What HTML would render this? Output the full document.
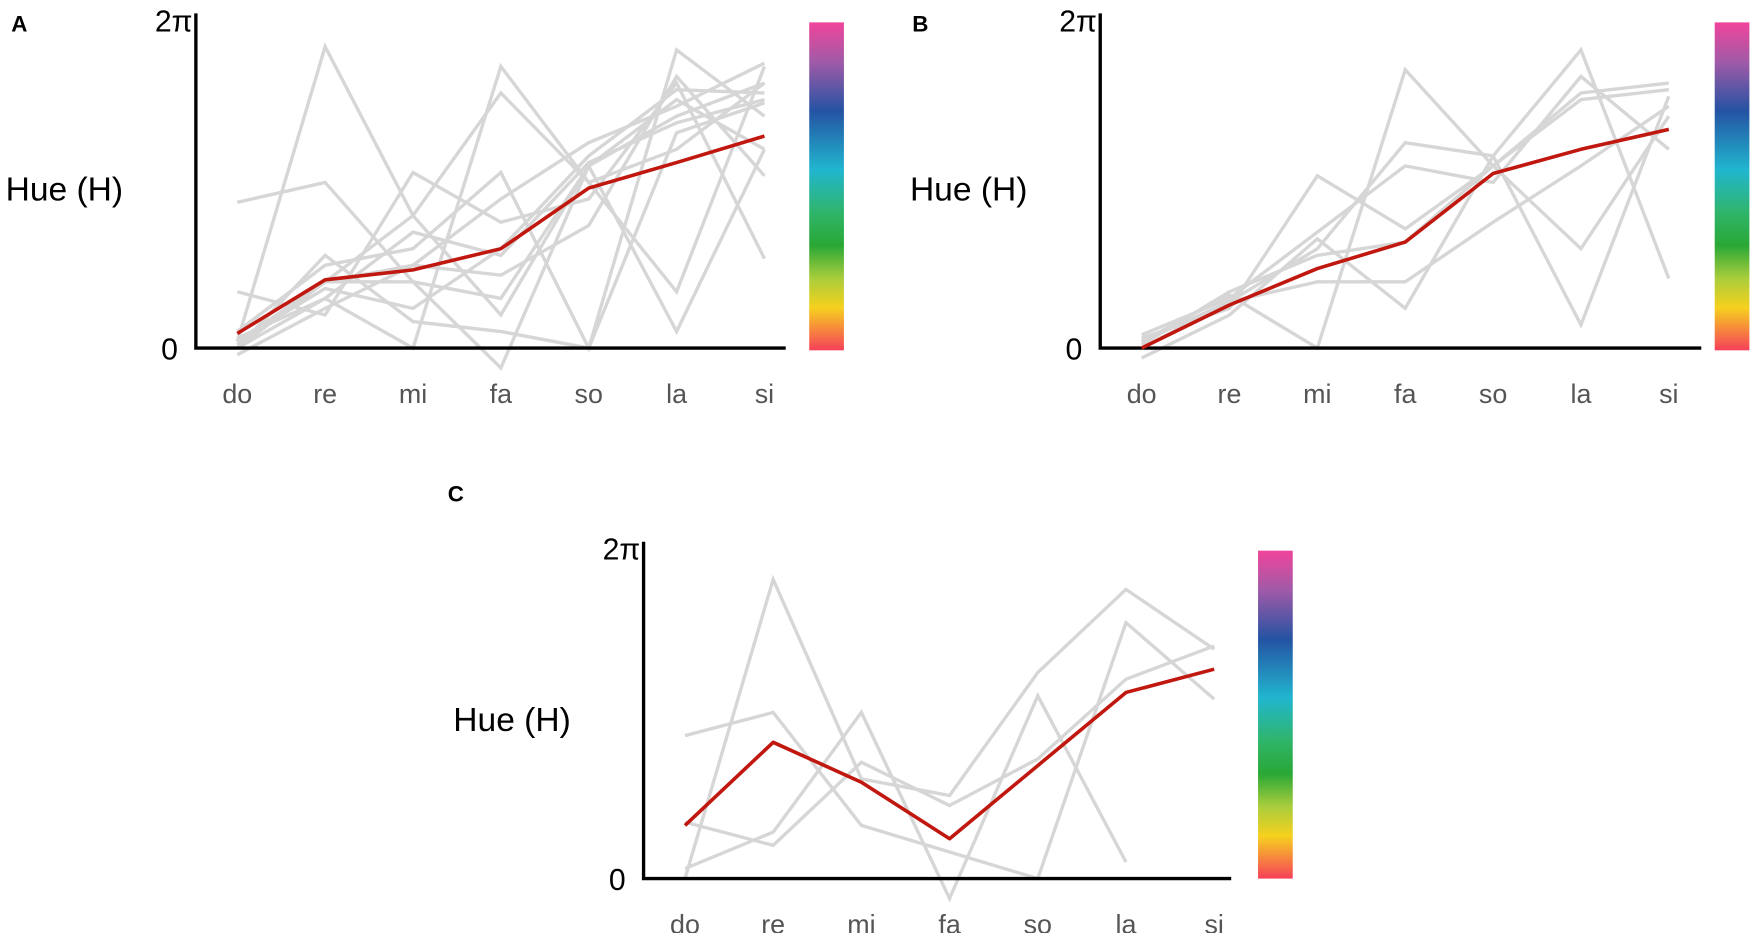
<!DOCTYPE html>
<html><head><meta charset="utf-8"><style>
html,body{margin:0;padding:0;background:#fff;}
svg{display:block;font-family:"Liberation Sans",sans-serif;}
</style></head><body>
<svg id="fig" width="1755" height="933" viewBox="0 0 1568 833.6" preserveAspectRatio="none">
<defs>
<linearGradient id="hueGrad" x1="0" y1="0" x2="0" y2="1">
<stop offset="0" stop-color="#f0449a"/>
<stop offset="0.12" stop-color="#a15aa8"/>
<stop offset="0.27" stop-color="#2453a3"/>
<stop offset="0.45" stop-color="#21b6cf"/>
<stop offset="0.58" stop-color="#2fb56a"/>
<stop offset="0.68" stop-color="#29a836"/>
<stop offset="0.78" stop-color="#a9cd3c"/>
<stop offset="0.87" stop-color="#f6d11e"/>
<stop offset="1" stop-color="#f6405a"/>
</linearGradient>
</defs>
</svg>
<script>
const categories = ["do","re","mi","fa","so","la","si"];
const yTickLabels = ["0","2π"];
// values as fraction of 2π
const meanA = [0.044,0.206,0.236,0.30,0.483,0.56,0.64];
const grayA = [
 [0.02,0.91,0.40,0.10,0.55,0.75,0.60],
 [0.44,0.50,0.20,0.15,0.55,0.05,0.60],
 [0.17,0.10,0.53,0.38,0.45,0.80,0.27],
 [0.00,0.15,0.00,0.85,0.50,0.60,0.80],
 [0.02,0.20,0.40,0.77,0.50,0.17,0.85],
 [0.05,0.25,0.30,0.53,0.00,0.90,0.70],
 [0.00,0.20,0.25,0.45,0.62,0.73,0.86],
 [0.03,0.15,0.35,0.28,0.56,0.68,0.75],
 [0.01,0.20,0.20,-0.06,0.55,0.70,0.80],
 [-0.02,0.12,0.25,0.22,0.37,0.82,0.52],
 [0.02,0.18,0.12,0.30,0.58,0.78,0.77],
 [0.00,0.28,0.08,0.05,0.00,0.65,0.74]
];
const meanB = [0.00,0.13,0.24,0.32,0.527,0.60,0.66];
const grayB = [
 [0.02,0.16,0.00,0.84,0.55,0.30,0.70],
 [0.03,0.12,0.52,0.36,0.55,0.77,0.80],
 [0.00,0.14,0.30,0.62,0.58,0.07,0.76],
 [-0.03,0.10,0.33,0.12,0.58,0.90,0.21],
 [0.04,0.15,0.35,0.55,0.50,0.82,0.60],
 [0.01,0.17,0.28,0.32,0.55,0.75,0.78],
 [0.02,0.14,0.20,0.20,0.38,0.55,0.73]
];
const meanC = [0.16,0.41,0.29,0.12,0.34,0.56,0.63];
const grayC = [
 [0.00,0.90,0.30,0.25,0.62,0.87,0.69],
 [0.43,0.50,0.16,0.08,0.00,0.77,0.54],
 [0.03,0.14,0.50,-0.06,0.55,0.05,null],
 [0.17,0.10,0.35,0.22,0.36,0.60,0.70]
];

const NS="http://www.w3.org/2000/svg";
const svg=document.getElementById('fig');
function mk(tag,attrs,parent,text){const e=document.createElementNS(NS,tag);for(const k in attrs)e.setAttribute(k,attrs[k]);if(text!==undefined)e.textContent=text;(parent||svg).appendChild(e);return e;}

function panel(cfg){
  const g=mk('g',{});
  
  
  const x=i=>cfg.x0+i*cfg.step;
  const y=v=>cfg.y0-v*(cfg.y0-cfg.yTop);
  const lbl=mk('text',{x:cfg.letterX,y:cfg.letterY,'font-size':20,'font-weight':'bold',fill:'#000'},g,cfg.id);
  
  
  cfg.gray.forEach((s,si)=>{
    let pts=[];s.forEach((v,i)=>{if(v!==null)pts.push(x(i)+','+y(v));});
    const p=mk('polyline',{points:pts.join(' '),fill:'none',stroke:'#d6d6d6','stroke-width':3,'stroke-linejoin':'miter'},g);
    
    
  });
  const ax=mk('path',{d:`M${cfg.axX},${cfg.axTop} V${cfg.y0} H${cfg.axRight}`,fill:'none',stroke:'#000','stroke-width':3},g);
  
  
  const m=mk('polyline',{points:cfg.mean.map((v,i)=>x(i)+','+y(v)).join(' '),fill:'none',stroke:'#c0170f','stroke-width':3.2,'stroke-linejoin':'round'},g);
  
  
  categories.forEach((c,i)=>{
    const t=mk('text',{x:x(i),y:cfg.y0+49,'font-size':24,fill:'#555','text-anchor':'middle'},g,c);
    
    
  });
  const t0=mk('text',{x:cfg.axX-16,y:cfg.y0+10,'font-size':27,fill:'#000','text-anchor':'end'},g,yTickLabels[0]);
  
  
  const t1=mk('text',{x:cfg.axX-3,y:cfg.axTop+16,'font-size':27,fill:'#000','text-anchor':'end'},g,yTickLabels[1]);
  
  
  const yt=mk('text',{x:cfg.titleX,y:cfg.titleY,'font-size':30,fill:'#000'},g,'Hue (H)');
  
  
  const cb=mk('rect',{x:cfg.cbX,y:cfg.cbY,width:31,height:cfg.cbH,fill:'url(#hueGrad)'},g);
  
  
}
panel({id:'A',x0:212,step:78.5,y0:311,yTop:15,axX:175,axTop:12,axRight:702,letterX:10,letterY:28,titleX:5,titleY:179,cbX:723,cbY:20,cbH:293,mean:meanA,gray:grayA});
panel({id:'B',x0:1020,step:78.5,y0:311,yTop:15,axX:983,axTop:12,axRight:1520,letterX:815,letterY:28,titleX:813,titleY:179,cbX:1532,cbY:20,cbH:293,mean:meanB,gray:grayB});
panel({id:'C',x0:612,step:78.8,y0:785,yTop:488,axX:575,axTop:484,axRight:1100,letterX:400,letterY:448,titleX:405,titleY:653,cbX:1124,cbY:492,cbH:293,mean:meanC,gray:grayC});
</script>
</body></html>
